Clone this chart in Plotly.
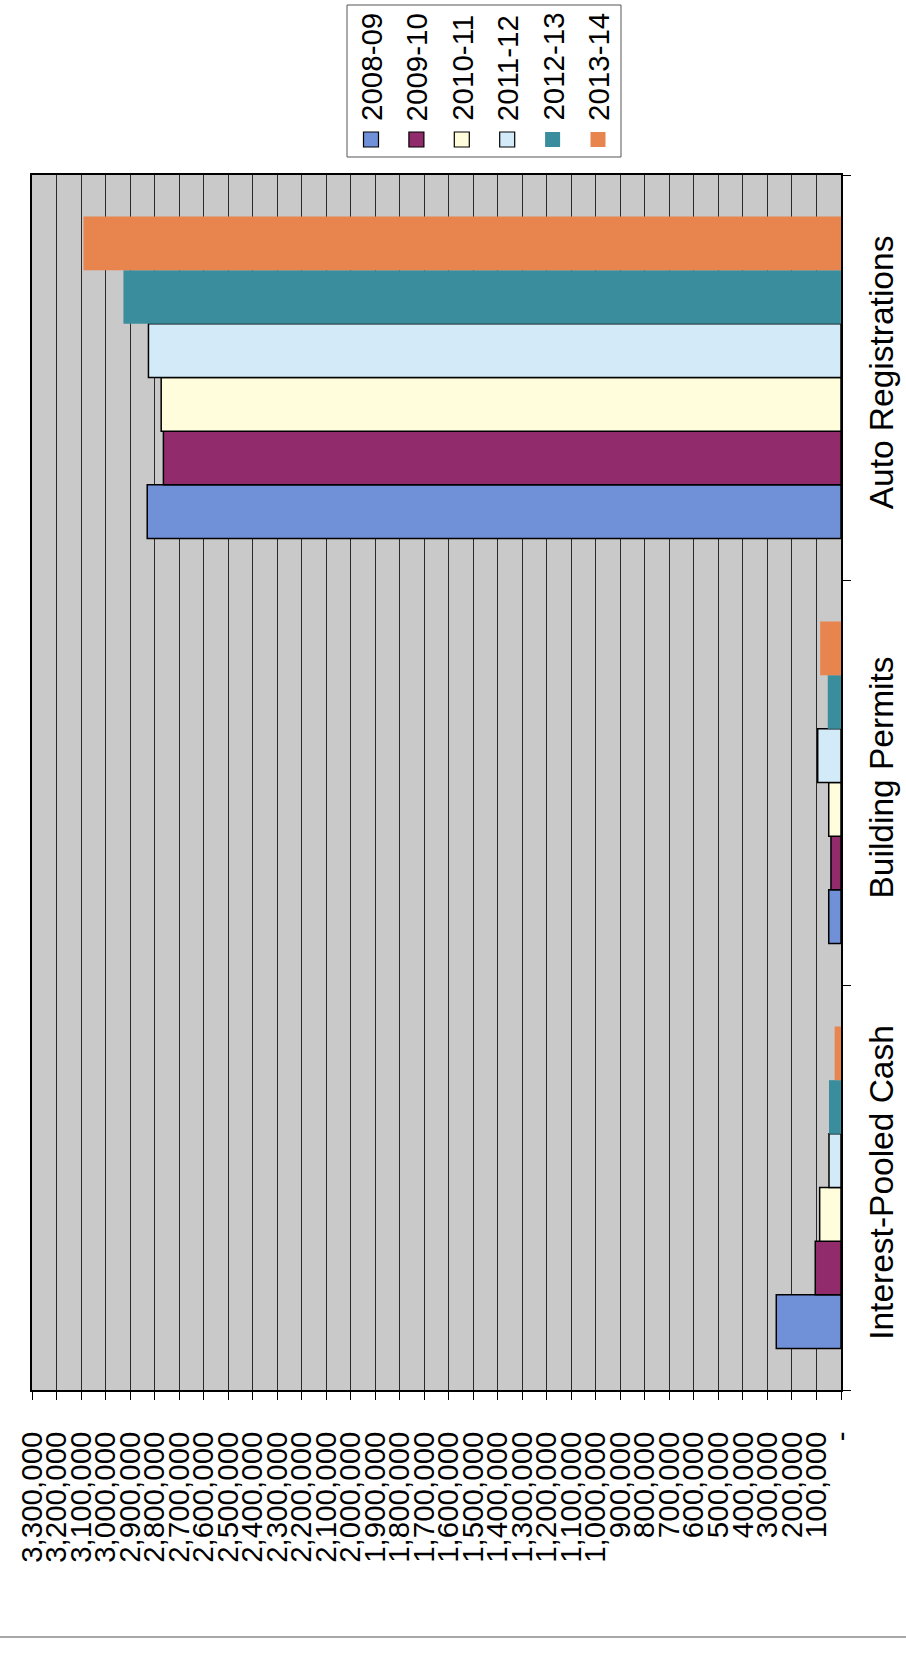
import plotly.graph_objects as go

# Revenue by source, fiscal years 2008-09 through 2013-14
categories = ["Interest-Pooled Cash", "Building Permits", "Auto Registrations"]
years = ["2008-09", "2009-10", "2010-11", "2011-12", "2012-13", "2013-14"]
revenue = {
    "2008-09": [264000, 50000, 2830000],
    "2009-10": [105000, 41000, 2764000],
    "2010-11": [87000, 50000, 2773000],
    "2011-12": [49000, 95000, 2825000],
    "2012-13": [49000, 54000, 2927000],
    "2013-14": [26000, 85000, 3090000],
}
colors = ["#7090D8", "#922B6C", "#FFFDDC", "#D3EBF8", "#3A8D9C", "#E8854F"]
outlined = [True, True, True, True, False, False]

tick_values = list(range(0, 3300001, 100000))
tick_labels = ["-"] + [f"{v:,}" for v in tick_values[1:]]

W, H = 906, 1659
L, R, T, B = 32, 65, 175, 269
FONT = "Liberation Sans, Arial, sans-serif"


def px_x(x):
    return (x - L) / (W - L - R)


def px_y(y):
    return 1 - (y - T) / (H - T - B)


fig = go.Figure()
for yr, col, edge in zip(years, colors, outlined):
    fig.add_trace(go.Bar(
        y=categories,
        x=revenue[yr],
        name=yr,
        orientation="h",
        marker=dict(color=col,
                    line=dict(color="black", width=1.5 if edge else 0)),
        showlegend=False,
    ))

fig.update_layout(
    width=W, height=H,
    margin=dict(l=L, r=R, t=T, b=B),
    paper_bgcolor="white",
    plot_bgcolor="#C9C9C9",
    barmode="group",
    bargap=0.205,
    bargroupgap=0,
    font=dict(family=FONT, color="black"),
)

fig.update_xaxes(
    range=[3300000, 0],
    tickvals=tick_values,
    ticktext=tick_labels,
    tickangle=-90,
    tickfont=dict(size=29.5),
    ticks="outside", ticklen=8, tickcolor="black",
    ticklabelstandoff=20,
    automargin=False,
    showgrid=True, gridcolor="#2a2a2a", gridwidth=1,
    showline=True, linecolor="black", linewidth=1.5, mirror=True,
    zeroline=False,
)
fig.update_yaxes(
    side="right",
    tickangle=-90,
    tickfont=dict(size=33.5),
    ticks="outside", ticklen=8, tickcolor="black",
    ticklabelstandoff=10,
    automargin=False,
    tickson="boundaries",
    showgrid=False,
    showline=True, linecolor="black", linewidth=1.5, mirror=True,
)

# Legend drawn as a vertical strip of rotated entries
box_x0, box_x1, box_y0, box_y1 = 347, 621, 5, 157
fig.add_shape(type="rect", xref="paper", yref="paper",
              x0=px_x(box_x0), x1=px_x(box_x1), y0=px_y(box_y1), y1=px_y(box_y0),
              line=dict(color="#555555", width=1), fillcolor="white")
step = 45.4
for i, (yr, col, edge) in enumerate(zip(years, colors, outlined)):
    cx = 371 + i * step
    fig.add_shape(type="rect", xref="paper", yref="paper",
                  x0=px_x(cx - 7.5), x1=px_x(cx + 7.5),
                  y0=px_y(147), y1=px_y(132),
                  line=dict(color="black", width=1.2 if edge else 0),
                  fillcolor=col)
    fig.add_annotation(text=yr, xref="paper", yref="paper",
                       x=px_x(cx), y=px_y(123), xanchor="center", yanchor="bottom",
                       textangle=-90, showarrow=False,
                       font=dict(size=29.5, family=FONT, color="black"))

# Page rule below the chart
fig.add_shape(type="line", xref="paper", yref="paper",
              x0=px_x(0), x1=px_x(W), y0=px_y(1637), y1=px_y(1637),
              line=dict(color="#8a8a8a", width=1.5))

fig.write_html("out.html")
